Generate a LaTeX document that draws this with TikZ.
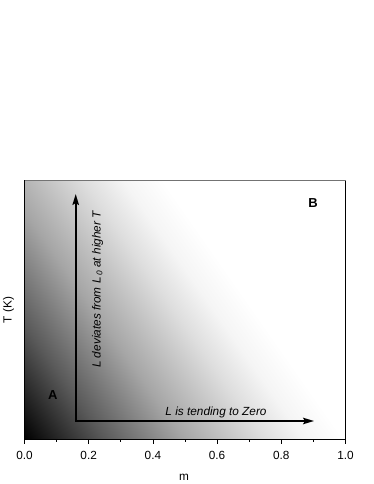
\documentclass[tikz,border=0pt]{standalone}
\usepackage{fontspec}
\setmainfont{Liberation Sans}
\usetikzlibrary{arrows.meta}

% soft ramp, dark corner fading out to white
\pgfdeclarehorizontalshading{fieldramp}{100bp}{color(0bp)=(black); color(25bp)=(black); color(37.5bp)=(black!65); color(50bp)=(black!35); color(62.5bp)=(black!13); color(68.75bp)=(black!4); color(75bp)=(white); color(100bp)=(white)}

\begin{document}
\begin{tikzpicture}[
    x=1pt, y=1pt,
    frame/.style={draw=black, line width=0.9pt},
    axisarrow/.style={{Stealth[length=11pt, width=6.5pt, inset=2pt]}-{Stealth[length=11pt, width=6.5pt, inset=2pt]}, line width=1.8pt, line join=miter},
    ticktext/.style={font=\fontsize{11.8}{14}\selectfont, inner sep=0pt},
    note/.style={font=\fontsize{11.8}{14}\selectfont\itshape, inner sep=0pt},
    region/.style={font=\fontsize{13}{15}\selectfont\bfseries, inner sep=0pt},
    tickmark/.style={line width=0.8pt}
]
    \useasboundingbox (0,0) rectangle (374,484);
    \coordinate (sw) at (24.5,44.5);
    \coordinate (ne) at (345.5,303.5);

    % shaded field, dark at low m and low T
    \begin{scope}
        \clip (sw) rectangle (ne);
        \fill[white] (sw) rectangle (ne);
        \begin{scope}[transform canvas={shift={(24.5,44.5)}, rotate=35}]
            \shade[shading=fieldramp] (0,-195) rectangle (262,225);
        \end{scope}
    \end{scope}

    % frame
    \draw[frame] (sw |- ne) -- (sw) -- (sw -| ne) -- (ne);
    \draw[frame, draw=black!55] (sw |- ne) -- (ne);

    % m axis
    \foreach \i/\t in {0/0.0, 2/0.2, 4/0.4, 6/0.6, 8/0.8, 10/1.0} {
        \draw[tickmark] (24.5+32.1*\i,44.5) -- ++(0,-5);
        \node[ticktext, anchor=base] (tk\i) at (24.5+32.1*\i,24.7) {\t};
    }
    \foreach \i in {1,3,5,7,9}
        \draw[tickmark] (24.5+32.1*\i,44.5) -- ++(0,-3);

    \node[ticktext, anchor=base] (mlabel) at (184,4) {m};
    \node[ticktext, anchor=base, rotate=90] (tlabel) at (11.5,174) {T (K)};

    % arrows
    \coordinate (corner) at (75.7,63);
    \coordinate (ttip) at (75.7,290);
    \coordinate (mtip) at (314,63);
    \draw[axisarrow] (ttip) -- (corner) -- (mtip);

    \node[note, anchor=base, rotate=90] (deviate) at (100.5,194.5) {L deviates from L\textsubscript{\,0} at higher T};
    \node[note, anchor=base] (tozero) at (216,68) {L is tending to Zero};

    \node[region] (regA) at (52.7,89) {A};
    \node[region] (regB) at (313,281) {B};
\end{tikzpicture}
\end{document}
